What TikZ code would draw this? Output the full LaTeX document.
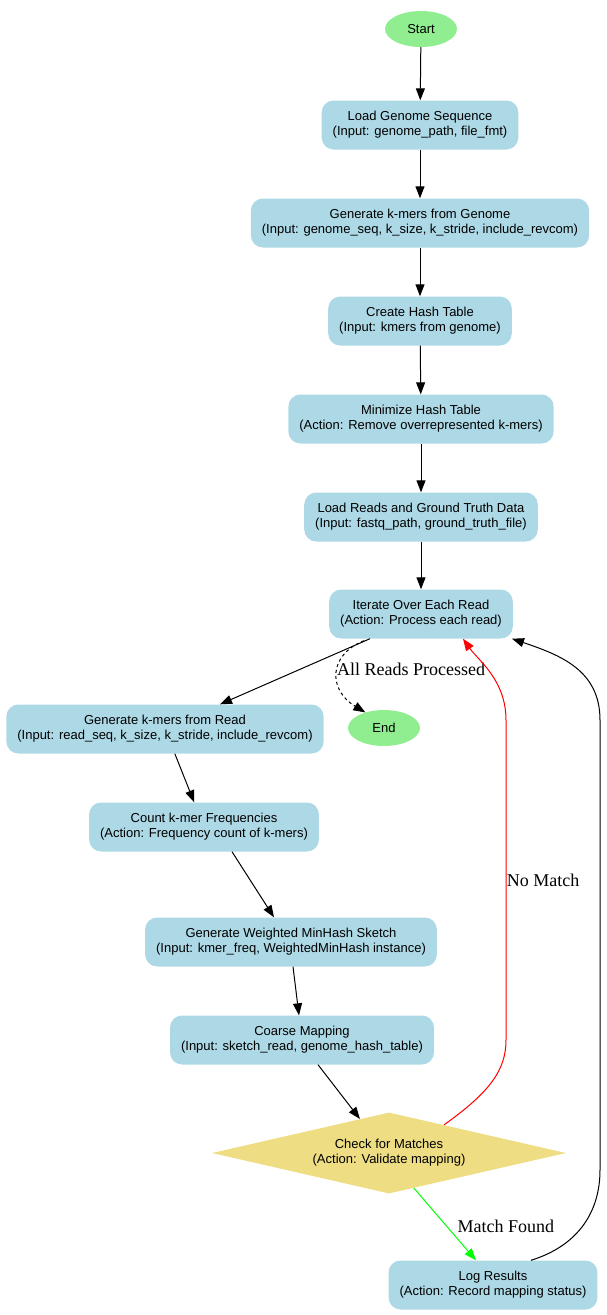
\documentclass[tikz,border=0pt]{standalone}
\usepackage{fontspec}
\newfontfamily\helv{Liberation Sans}
\newfontfamily\tms{Liberation Serif}
\usepackage{tikz}
\usetikzlibrary{arrows.meta,shapes.geometric,calc}
\definecolor{boxblue}{HTML}{ADD8E6}
\definecolor{termgreen}{HTML}{90EE90}
\definecolor{checkgold}{HTML}{EEDD82}
\definecolor{matchgreen}{HTML}{00FF00}

\begin{document}
\begin{tikzpicture}[x=1pt,y=1pt,
  stepbox/.style={fill=boxblue, rounded corners=12pt, minimum height=49pt, inner xsep=11pt, align=center, font=\helv\fontsize{13}{15}\selectfont},
  term/.style={ellipse, fill=termgreen, minimum width=72pt, minimum height=36pt, font=\helv\fontsize{13}{15}\selectfont},
  check/.style={diamond, aspect=4.37, fill=checkgold, inner sep=0pt, minimum width=354pt, minimum height=81pt, align=center, font=\helv\fontsize{13}{15}\selectfont},
  flow/.style={-{Triangle[length=12pt,width=9pt]}, line width=1pt},
  elabel/.style={font=\tms\fontsize{18}{21}\selectfont}]
  \useasboundingbox (0,0) rectangle (606,-1315);
  \node [term] (start) at (421,-29) {Start};
  \node [stepbox] (loadgen) at (420,-125) {Load Genome Sequence\\(Input: genome\_path, file\_fmt)};
  \node [stepbox] (genkmer) at (420,-223) {Generate k-mers from Genome\\(Input: genome\_seq, k\_size, k\_stride, include\_revcom)};
  \node [stepbox] (hashtab) at (420,-321) {Create Hash Table\\(Input: kmers from genome)};
  \node [stepbox] (minhash) at (421,-419) {Minimize Hash Table\\(Action: Remove overrepresented k-mers)};
  \node [stepbox] (loadreads) at (421,-517) {Load Reads and Ground Truth Data\\(Input: fastq\_path, ground\_truth\_file)};
  \node [stepbox] (iter) at (421,-614) {Iterate Over Each Read\\(Action: Process each read)};
  \node [stepbox] (readkmer) at (165,-729) {Generate k-mers from Read\\(Input: read\_seq, k\_size, k\_stride, include\_revcom)};
  \node [term] (finish) at (384,-728) {End};
  \node [stepbox] (count) at (204,-827) {Count k-mer Frequencies\\(Action: Frequency count of k-mers)};
  \node [stepbox] (sketch) at (291,-942) {Generate Weighted MinHash Sketch\\(Input: kmer\_freq, WeightedMinHash instance)};
  \node [stepbox] (coarse) at (302,-1040) {Coarse Mapping\\(Input: sketch\_read, genome\_hash\_table)};
  \node [check] (match) at (389,-1153) {Check for Matches\\(Action: Validate mapping)};
  \node [stepbox] (logres) at (493,-1285) {Log Results\\(Action: Record mapping status)};
  \coordinate (redlow) at (506,-1040);
  \coordinate (redhigh) at (506,-720);
  \coordinate (blklow) at (600,-1170);
  \coordinate (blkhigh) at (600,-720);
  \draw [flow] (start) -- (loadgen);
  \draw [flow] (loadgen) -- (genkmer);
  \draw [flow] (genkmer) -- (hashtab);
  \draw [flow] (hashtab) -- (minhash);
  \draw [flow] (minhash) -- (loadreads);
  \draw [flow] (loadreads) -- (iter);
  \draw [flow] ([xshift=-51pt]iter.south) -- ([xshift=55pt]readkmer.north);
  \draw [flow, dashed] ([xshift=-57pt,yshift=-2pt]iter.south) .. controls (328,-655) and (328,-690) .. (finish.140)
    node [elabel, pos=0.45, right=-4pt] {All Reads Processed};
  \draw [flow] (readkmer) -- (count);
  \draw [flow] ([xshift=28pt]count.south) -- ([xshift=-17pt]sketch.north);
  \draw [flow] ([xshift=2pt]sketch.south) -- ([xshift=-3pt]coarse.north);
  \draw [flow] ([xshift=16pt]coarse.south) -- ($(match.north)!0.164!(match.west)$);
  \draw [flow, red] ($(match.north)!0.31!(match.east)$) .. controls (490,-1092) and (506,-1070) .. (redlow)
    -- node [elabel, black, pos=0.5, right=-3pt] {No Match} (redhigh) .. controls (506,-680) and (478,-660) .. ([xshift=42pt]iter.south);
  \draw [flow, matchgreen] ($(match.south)!0.14!(match.east)$) -- ([xshift=-17pt]logres.north)
    node [elabel, black, pos=0.53, right=7pt] {Match Found};
  \draw [flow] ([xshift=38pt]logres.north) .. controls (580,-1245) and (600,-1210) .. (blklow)
    -- (blkhigh) .. controls (600,-670) and (560,-655) .. ([xshift=91pt]iter.south);
\end{tikzpicture}
\end{document}
